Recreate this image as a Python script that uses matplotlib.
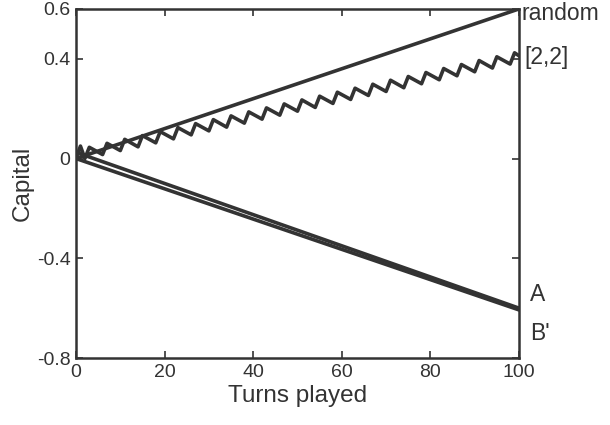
import matplotlib
matplotlib.use("Agg")
import matplotlib.pyplot as plt

plt.rcParams['font.family'] = ['Liberation Sans', 'DejaVu Sans']

ink = '#333333'

# straight-line games: turn -> expected capital
random_t = [0, 100]
random_v = [0.0, 0.6]
a_t = [0, 100]
a_v = [0.025, -0.6]
bp_t = [0, 100]
bp_v = [0.0, -0.607]

# [2,2] sequence, zigzag vertices (turn, capital)
zz_t = [0, 1, 2, 3, 6, 7, 10, 11, 14, 15, 18, 19, 22, 23, 26, 27, 30, 31,
        34, 35, 38, 39, 42, 43, 46, 47, 50, 51, 54, 55, 58, 59, 62, 63,
        66, 67, 70, 71, 74, 75, 78, 79, 82, 83, 86, 87, 90, 91, 94, 95,
        98, 99, 100]
zz_v = [0.0, 0.05, 0.0, 0.045, 0.016, 0.061, 0.032, 0.077, 0.047, 0.092,
        0.063, 0.108, 0.079, 0.124, 0.095, 0.140, 0.111, 0.156, 0.126, 0.171,
        0.142, 0.187, 0.158, 0.203, 0.174, 0.219, 0.190, 0.235, 0.205, 0.250,
        0.221, 0.266, 0.237, 0.282, 0.253, 0.298, 0.269, 0.314, 0.284, 0.329,
        0.300, 0.345, 0.316, 0.361, 0.332, 0.377, 0.348, 0.393, 0.363, 0.408,
        0.379, 0.424, 0.412]

end_labels = ['random', '[2,2]', 'A', "B'"]
end_label_y = [0.556, 0.38, -0.572, -0.728]
end_label_x = [100.6, 101.2, 102.5, 102.5]

fig = plt.figure(figsize=(6.1, 4.25), dpi=100)
ax = fig.add_axes([0.1246, 0.1576, 0.7262, 0.8214])

lw = 2.6
ax.plot(random_t, random_v, color=ink, lw=lw)
ax.plot(zz_t, zz_v, color=ink, lw=lw)
ax.plot(a_t, a_v, color=ink, lw=lw)
ax.plot(bp_t, bp_v, color=ink, lw=lw)

ax.set_xlim(0, 100)
ax.set_ylim(-0.8, 0.6)
ax.set_xticks([0, 20, 40, 60, 80, 100])
ax.set_yticks([-0.8, -0.4, 0, 0.4, 0.6])
ax.set_yticklabels(['-0.8', '-0.4', '0', '0.4', '0.6'])
ax.tick_params(direction='in', top=True, right=True, length=5, width=1.2,
               color=ink, labelcolor=ink, labelsize=14, pad=4)
for s in ax.spines.values():
    s.set_color(ink)
    s.set_linewidth(1.8)

ax.set_xlabel('Turns played', fontsize=17.5, color=ink, labelpad=3)
ax.set_ylabel('Capital', fontsize=17.5, color=ink, labelpad=2)

for lab, x, y in zip(end_labels, end_label_x, end_label_y):
    ax.text(x, y, lab, fontsize=16.5, color=ink, va='baseline', ha='left',
            clip_on=False)

fig.savefig('out.png', dpi=100)
